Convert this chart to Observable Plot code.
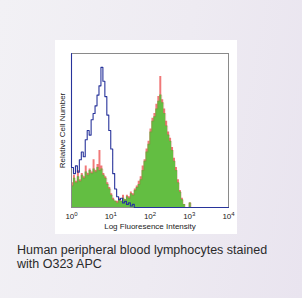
<!DOCTYPE html>
<html><head><meta charset="utf-8">
<script src="https://cdn.jsdelivr.net/npm/d3@7"></script>
<script src="https://cdn.jsdelivr.net/npm/@observablehq/plot@0.6"></script>
<style>
html,body{margin:0;padding:0;}
body{width:302px;height:298px;background:linear-gradient(100deg,#f2f1f5 0%,#eeebf2 55%,#e9e4ef 100%);position:relative;overflow:hidden;font-family:"Liberation Sans",Arial,sans-serif;}
#panel{position:absolute;left:55px;top:40px;width:182px;height:194px;background:#fff;}
#caption{position:absolute;left:17px;top:243px;font-size:12.5px;line-height:14px;color:#2a2a2a;white-space:nowrap;}
</style></head><body>
<div id="panel"></div>
<div id="caption">Human peripheral blood lymphocytes stained<br>with O323 APC</div>
<script>
// log10 channel positions (bin ends)
const channels = [0,0.05,0.10,0.15,0.20,0.25,0.30,0.35,0.40,0.45,0.50,0.55,0.60,0.65,0.70,0.75,0.80,0.85,0.90,0.95,
  1.00,1.05,1.10,1.15,1.20,1.25,1.30,1.35,1.40,1.45,1.50,1.55,1.60,1.65,1.70,1.75,1.80,1.85,1.90,1.95,
  2.00,2.05,2.10,2.15,2.20,2.25,2.30,2.35,2.40,2.45,2.50,2.55,2.60,2.65,2.70,2.75,2.80,2.85,2.90,2.95,
  3.00,3.05,3.10,4.00];
// isotype control (blue outline)
const blue = [100,26,22,27,23,31,36,33,44,50,47,57,61,66,73,79,91,82,72,60,
  50,38,22,12,7,5,6,3,4,2,3,1,2,0,0,0,0,0,0,0,
  0,0,0,0,0,0,0,0,0,0,0,0,0,0,0,0,0,0,0,0,
  0,0,0,0];
// stained sample (red)
const red = [0,16,21,17,24,18,22,20,27,22,25,23,31,24,28,37,27,22,20,16,
  13,9,6,4,4,6,4,8,5,8,7,10,9,12,14,17,20,27,31,38,
  43,51,58,61,67,72,85,70,64,56,49,45,39,32,26,18,11,6,2,0,
  0,3,0,0];
// stained sample (green fill)
const green = [0,14,19,16,20,17,21,19,23,21,24,22,25,23,26,24,25,21,19,15,
  12,8,5,4,3,5,4,6,5,7,6,9,8,11,13,15,18,24,30,36,
  41,49,56,59,64,69,73,68,61,53,47,43,37,30,24,16,10,5,2,0,
  0,3,0,0];
const tickExps = [0,1,2,3,4];
const sup = ["⁰","¹","²","³","⁴"];

const data = channels.map((c,i)=>({x: Math.pow(10,c), blue: blue[i], red: red[i], green: green[i]}));

const chart = Plot.plot({
  width:182, height:194, marginLeft:16, marginTop:13, marginRight:9, marginBottom:27,
  style:{fontFamily:"'Liberation Sans', Arial, sans-serif", fontSize:"8px", background:"transparent", color:"#222", overflow:"visible"},
  x:{type:"log", domain:[1,1e4]},
  y:{domain:[0,100]},
  marks:[
    Plot.areaY(data,{x:"x",y:"red",fill:"#f07878",curve:"step-before"}),
    Plot.areaY(data,{x:"x",y:"green",fill:"#63be42",curve:"step-before"}),
    Plot.lineY(data,{x:"x",y:"green",stroke:"#b0603a",strokeOpacity:0.35,strokeWidth:0.7,curve:"step-before"}),
    Plot.frame({stroke:"#8a8a8a"}),
    Plot.lineY(data,{x:"x",y:"blue",stroke:"#28349b",strokeWidth:1.1,curve:"step-before"}),
    Plot.axisX({ticks: tickExps.map(e=>Math.pow(10,e)), tickSize:0, tickPadding:6, fontSize:8,
      tickFormat: d => "10" + sup[Math.round(Math.log10(d))],
      label:"Log Fluoresence Intensity", labelAnchor:"center", labelArrow:"none", labelOffset:21}),
    Plot.axisY({ticks:[], label:"Relative Cell Number", labelAnchor:"center", labelArrow:"none", labelOffset:12, fontSize:8})
  ]
});
chart.style.position = "absolute";
chart.style.left = "0px";
chart.style.top = "0px";
document.getElementById("panel").appendChild(chart);

// render exponents as superscript tspans
const supMap = {"⁰":"0","¹":"1","²":"2","³":"3","⁴":"4"};
d3.select(chart).selectAll("text").each(function(){
  const t = d3.select(this);
  const s = t.text();
  const m = s.match(/^10(.)$/);
  if (m && supMap[m[1]] !== undefined) {
    t.text("10");
    t.append("tspan").attr("dy","-3.5").attr("font-size","6px").text(supMap[m[1]]);
  }
});
</script>
</body></html>
